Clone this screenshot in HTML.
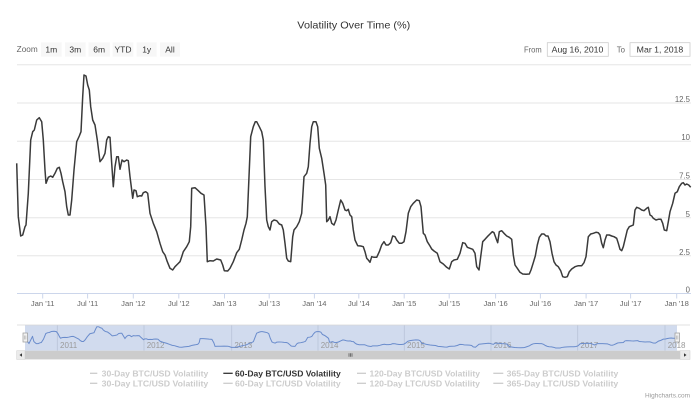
<!DOCTYPE html>
<html>
<head>
<meta charset="utf-8">
<style>
html,body{margin:0;padding:0;background:#fff;}
svg{display:block;font-family:"Liberation Sans",sans-serif;}
</style>
</head>
<body>
<svg width="700" height="403" viewBox="0 0 700 403" xmlns="http://www.w3.org/2000/svg">
<defs>
<polyline id="ml" fill="none" vector-effect="non-scaling-stroke" points="16.7,163.3 18.3,216.7 20.7,236 22.7,235 25,226.7 26,225 28.3,193.3 30.7,140 32.7,131.7 34.3,130 36.7,120 39.3,117.7 41.7,121.7 43.3,140 45,170 46,183.3 48.3,177.3 50.7,176 52.7,177.3 55,173.3 57.3,168.3 59.3,167.3 61,173.3 62.7,181.7 65,191.7 66.7,206.7 68.3,215 70,215 71.7,200 74,170 76.7,141.7 79.3,136 81,131.7 82.7,96.7 84,75 86,76 87.7,85 89.3,90 90.7,106.7 92.7,120 95,125 97.3,140 100,161.7 102.7,158.3 105,153.3 106.7,140 108.3,136.7 110,137.3 111.7,163.3 113.3,186.7 115,166.7 116.7,156.7 118.3,156.7 120,169.3 122,160 124,161.7 126.7,160 128.3,160.7 130,176.7 131.7,190 132.7,198.3 134,190 136,190.7 137.3,196.7 140,195.7 141.7,196 143.3,192.7 145.7,191.7 147.7,193.3 150,213.3 153.3,223.3 156.7,231.7 160,243.3 162.7,251.7 165,255 167.3,261.7 170,268.3 172.7,270 175,266.7 177.7,264 180,261.7 181.7,256.7 183.3,251.7 186.7,246.7 189.3,241.7 190.7,226.7 191.7,188.3 195,187.7 198.3,190.7 201,193.3 204,195 206,226.7 207.3,261.7 210,260.7 213.3,261 216.7,259 220.7,260 222.7,265 224.3,270.7 227.7,271 230,268.3 233.3,261.7 236.7,252.7 239.3,249.3 241.7,240 244,230 246,223.3 247.3,216.7 249,176.7 250.7,136.7 253.3,126.7 255.3,121.7 256.7,121.7 259.3,126.7 261.7,131.7 263.3,140 265,186.7 266.7,220 268.3,226.7 270,230 271.7,221.7 274,220 276.7,220.7 279.3,224 281.7,225 283.3,230 285,243.3 286.7,258.3 288.3,261 290.7,261.7 292.7,236.7 294,230 296.7,226.7 299.3,221.7 301.7,213.3 304,176.7 306.7,173.3 308.3,166.7 310,143.3 311.7,126.7 313.3,121.7 316,121.7 317.7,126.7 319.3,148.3 321.7,158.3 324,173.3 325.7,185 326.7,221.7 328.3,220 330,216.7 331.7,223.3 334,225 336,220 338.3,210 340.7,200 342.7,203.3 345,210 346.7,210.7 348.3,209.3 350,215 351.7,216.7 353.3,230 355,240 357.7,245.7 360.7,246 363.3,246.7 365,251.7 366.7,258.3 368.3,260 370,262.3 371.7,256.7 374,257.3 376.7,257.3 379.3,251.7 381.7,245 384,241.7 386,245 388.3,245 390.7,242.7 392.7,236 395,236.7 396.7,240 399.3,243.3 401.7,243.3 404,241.7 406,231.7 408.3,213.3 410.7,206.7 413.3,203.3 416.7,200 419.3,200.7 421,206.7 423.3,233.3 425,235 427.3,241.7 430,246 431.7,249 434,251 437.3,253.3 440,261.7 443.3,264 446.7,267.3 449.3,269 451.7,261.7 454,260 457.3,259.3 460,253.3 462.7,242.7 465,243.3 467.3,247.3 470,248.3 472.7,249.3 475,253.3 476.7,266.7 479,270 480.7,256.7 482.7,241.7 485,239.3 487.3,236.7 490,234 492.3,231.7 494,232.7 496,238.3 497.7,242.7 499.3,231.7 501.7,230.7 504,233.3 506.7,236 509.3,237.3 511.7,239.3 513.3,255 515,265 517.3,268.3 520,272.3 522.7,274 526,274.3 529.3,274 531,270 533.3,262.7 535.3,256 537.3,245 539.3,237.3 541.7,234 544,234 546,236 548,236 550,241.7 552,253.3 554,261.7 556,265 558.3,266.7 560.7,270.7 562.7,276.7 565,277.3 567.3,276.7 569.3,271.7 571.7,269 575,266.7 578.3,265.7 581.7,265.7 584,262.7 586,256.7 588.3,236.7 590.7,234 593.3,233.3 596,232.3 598.3,232.7 600,235 601.7,243.3 603.3,247.7 605,240 606.7,235 609.3,235 611.7,236 614,236.7 616.7,238.3 618.3,243.3 620,249.3 621.7,250.7 623.3,246.7 625.7,236.7 627.3,230 629.3,226.7 631.7,225.7 633.3,225 635,210 636.7,207.3 639.3,208.3 641.7,210 644,210.7 646.7,208.3 648.3,207.3 650,215 651.7,216 653.3,218.3 656,220 658.3,219.3 661,219.3 662.7,223.3 664.3,230 666.7,230.7 668.3,221.7 670,211.7 672.7,203.3 675,193.3 677.3,191.7 679.3,186.7 681.7,183.3 683.3,182.7 685,185 686.7,184 688.7,185 690.7,187.3"/>
</defs>

<!-- Title -->
<text x="297.3" y="28.7" font-size="10.5" fill="#333" textLength="113" lengthAdjust="spacingAndGlyphs">Volatility Over Time (%)</text>

<!-- Range selector -->
<text x="16.7" y="52" font-size="8" fill="#666" textLength="21" lengthAdjust="spacingAndGlyphs">Zoom</text>
<g fill="#f7f7f7">
<rect x="41" y="42.3" width="20.7" height="14.4"/>
<rect x="65" y="42.3" width="20.7" height="14.4"/>
<rect x="88.5" y="42.3" width="21.3" height="14.4"/>
<rect x="112.7" y="42.3" width="20.6" height="14.4"/>
<rect x="136.7" y="42.3" width="20" height="14.4"/>
<rect x="160" y="42.3" width="20" height="14.4"/>
</g>
<g font-size="8.5" fill="#333" text-anchor="middle">
<text x="51.3" y="52.3">1m</text>
<text x="75.3" y="52.3">3m</text>
<text x="99.2" y="52.3">6m</text>
<text x="123" y="52.3">YTD</text>
<text x="146.7" y="52.3">1y</text>
<text x="170" y="52.3">All</text>
</g>
<text x="524" y="52.3" font-size="8" fill="#666" textLength="17.7" lengthAdjust="spacingAndGlyphs">From</text>
<rect x="547.3" y="42.7" width="61" height="13.6" fill="#fff" stroke="#cccccc" stroke-width="0.8"/>
<text x="551.7" y="52.3" font-size="8.5" fill="#333" textLength="51.6" lengthAdjust="spacingAndGlyphs">Aug 16, 2010</text>
<text x="616.7" y="52.3" font-size="8" fill="#666" textLength="8.3" lengthAdjust="spacingAndGlyphs">To</text>
<rect x="630" y="42.7" width="60" height="13.6" fill="#fff" stroke="#cccccc" stroke-width="0.8"/>
<text x="636.7" y="52.3" font-size="8.5" fill="#333" textLength="46.6" lengthAdjust="spacingAndGlyphs">Mar 1, 2018</text>

<!-- Grid -->
<g stroke="#e6e6e6" stroke-width="1">
<line x1="17" y1="64.7" x2="691" y2="64.7"/>
<line x1="17" y1="103" x2="691" y2="103"/>
<line x1="17" y1="141.2" x2="691" y2="141.2"/>
<line x1="17" y1="179.5" x2="691" y2="179.5"/>
<line x1="17" y1="217.7" x2="691" y2="217.7"/>
<line x1="17" y1="255.7" x2="691" y2="255.7"/>
</g>
<line x1="17" y1="293.5" x2="691" y2="293.5" stroke="#ccd6eb" stroke-width="1"/>

<!-- Y labels -->
<g font-size="7.8" fill="#666" text-anchor="end">
<text x="690" y="102">12.5</text>
<text x="690" y="140.2">10</text>
<text x="690" y="178.7">7.5</text>
<text x="690" y="216.8">5</text>
<text x="690" y="255">2.5</text>
<text x="690" y="292.6">0</text>
</g>

<!-- X ticks -->
<g stroke="#ccd6eb" stroke-width="1">
<line x1="42.7" y1="293.5" x2="42.7" y2="298.5"/>
<line x1="87.6" y1="293.5" x2="87.6" y2="298.5"/>
<line x1="133.3" y1="293.5" x2="133.3" y2="298.5"/>
<line x1="178.8" y1="293.5" x2="178.8" y2="298.5"/>
<line x1="224.5" y1="293.5" x2="224.5" y2="298.5"/>
<line x1="269.2" y1="293.5" x2="269.2" y2="298.5"/>
<line x1="314.4" y1="293.5" x2="314.4" y2="298.5"/>
<line x1="358.8" y1="293.5" x2="358.8" y2="298.5"/>
<line x1="404.2" y1="293.5" x2="404.2" y2="298.5"/>
<line x1="449.2" y1="293.5" x2="449.2" y2="298.5"/>
<line x1="495.6" y1="293.5" x2="495.6" y2="298.5"/>
<line x1="540.4" y1="293.5" x2="540.4" y2="298.5"/>
<line x1="586.1" y1="293.5" x2="586.1" y2="298.5"/>
<line x1="630.6" y1="293.5" x2="630.6" y2="298.5"/>
<line x1="676.7" y1="293.5" x2="676.7" y2="298.5"/>
</g>
<g font-size="7.6" fill="#666" text-anchor="middle">
<text x="42.7" y="306">Jan '11</text>
<text x="87.6" y="306">Jul '11</text>
<text x="133.3" y="306">Jan '12</text>
<text x="178.8" y="306">Jul '12</text>
<text x="224.5" y="306">Jan '13</text>
<text x="269.2" y="306">Jul '13</text>
<text x="314.4" y="306">Jan '14</text>
<text x="358.8" y="306">Jul '14</text>
<text x="404.2" y="306">Jan '15</text>
<text x="449.2" y="306">Jul '15</text>
<text x="495.6" y="306">Jan '16</text>
<text x="540.4" y="306">Jul '16</text>
<text x="586.1" y="306">Jan '17</text>
<text x="630.6" y="306">Jul '17</text>
<text x="676.7" y="306">Jan '18</text>
</g>

<!-- Main series -->
<use href="#ml" stroke="#3a3a3a" stroke-width="1.5" stroke-linejoin="round"/>

<!-- Navigator -->
<rect x="25" y="325" width="652" height="25.7" fill="#d1dbee"/>
<g stroke="#b8c3d8" stroke-width="0.8">
<line x1="57.3" y1="325" x2="57.3" y2="350.7"/>
<line x1="144" y1="325" x2="144" y2="350.7"/>
<line x1="231.7" y1="325" x2="231.7" y2="350.7"/>
<line x1="318" y1="325" x2="318" y2="350.7"/>
<line x1="404.3" y1="325" x2="404.3" y2="350.7"/>
<line x1="491" y1="325" x2="491" y2="350.7"/>
<line x1="577.7" y1="325" x2="577.7" y2="350.7"/>
<line x1="665" y1="325" x2="665" y2="350.7"/>
</g>
<g font-size="8" fill="#9a9a9a">
<text x="60" y="348">2011</text>
<text x="146.7" y="348">2012</text>
<text x="234.4" y="348">2013</text>
<text x="320.7" y="348">2014</text>
<text x="407" y="348">2015</text>
<text x="493.7" y="348">2016</text>
<text x="580.4" y="348">2017</text>
<text x="667.7" y="348">2018</text>
</g>
<polyline points="26.5,340.5 29,343.5 32.7,336" fill="none" stroke="#6a8ccc" stroke-width="1"/>
<use href="#ml" stroke="#6a8ccc" stroke-width="1" transform="matrix(0.9584 0 0 0.1054 16.38 318.8)"/>
<line x1="17" y1="325" x2="690" y2="325" stroke="#d6d6d6" stroke-width="0.8"/>
<!-- handles -->
<rect x="23" y="333" width="4.5" height="9" fill="#f2f2f2" stroke="#999" stroke-width="0.7"/>
<line x1="24.6" y1="335.5" x2="24.6" y2="339.5" stroke="#999" stroke-width="0.5"/>
<line x1="25.9" y1="335.5" x2="25.9" y2="339.5" stroke="#999" stroke-width="0.5"/>
<rect x="675" y="333" width="4.5" height="9" fill="#f2f2f2" stroke="#999" stroke-width="0.7"/>
<line x1="676.6" y1="335.5" x2="676.6" y2="339.5" stroke="#999" stroke-width="0.5"/>
<line x1="677.9" y1="335.5" x2="677.9" y2="339.5" stroke="#999" stroke-width="0.5"/>

<!-- Scrollbar -->
<rect x="25" y="350.7" width="655" height="8.7" fill="#cccccc"/>
<rect x="16.7" y="350.7" width="8.3" height="8.7" fill="#ebebeb" stroke="#cccccc" stroke-width="0.5"/>
<path d="M19.5,355 L22,353.3 L22,356.7 Z" fill="#333"/>
<rect x="680" y="350.7" width="10" height="8.7" fill="#ebebeb" stroke="#cccccc" stroke-width="0.5"/>
<path d="M686.5,355 L684,353.3 L684,356.7 Z" fill="#333"/>
<g stroke="#333" stroke-width="0.6">
<line x1="349" y1="353.3" x2="349" y2="356.7"/>
<line x1="350.5" y1="353.3" x2="350.5" y2="356.7"/>
<line x1="352" y1="353.3" x2="352" y2="356.7"/>
</g>

<!-- Legend -->
<g stroke-width="1.3">
<line x1="90" y1="373.3" x2="97.3" y2="373.3" stroke="#cccccc"/>
<line x1="223.3" y1="373.3" x2="232.7" y2="373.3" stroke="#333"/>
<line x1="357" y1="373.3" x2="366" y2="373.3" stroke="#cccccc"/>
<line x1="493.3" y1="373.3" x2="503.3" y2="373.3" stroke="#cccccc"/>
<line x1="90" y1="383.3" x2="97.3" y2="383.3" stroke="#cccccc"/>
<line x1="223.3" y1="383.3" x2="232.7" y2="383.3" stroke="#cccccc"/>
<line x1="357" y1="383.3" x2="366" y2="383.3" stroke="#cccccc"/>
<line x1="493.3" y1="383.3" x2="503.3" y2="383.3" stroke="#cccccc"/>
</g>
<g font-size="8.5" font-weight="bold">
<text x="101.7" y="376.3" fill="#cccccc" textLength="106.6" lengthAdjust="spacingAndGlyphs">30-Day BTC/USD Volatility</text>
<text x="235" y="376.3" fill="#333" textLength="105.7" lengthAdjust="spacingAndGlyphs">60-Day BTC/USD Volatility</text>
<text x="369.5" y="376.3" fill="#cccccc" textLength="110.5" lengthAdjust="spacingAndGlyphs">120-Day BTC/USD Volatility</text>
<text x="506.7" y="376.3" fill="#cccccc" textLength="111.6" lengthAdjust="spacingAndGlyphs">365-Day BTC/USD Volatility</text>
<text x="101.7" y="386.3" fill="#cccccc" textLength="106.6" lengthAdjust="spacingAndGlyphs">30-Day LTC/USD Volatility</text>
<text x="235" y="386.3" fill="#cccccc" textLength="105.7" lengthAdjust="spacingAndGlyphs">60-Day LTC/USD Volatility</text>
<text x="369.5" y="386.3" fill="#cccccc" textLength="110.5" lengthAdjust="spacingAndGlyphs">120-Day LTC/USD Volatility</text>
<text x="506.7" y="386.3" fill="#cccccc" textLength="111.6" lengthAdjust="spacingAndGlyphs">365-Day LTC/USD Volatility</text>
</g>

<!-- Credits -->
<text x="645" y="397.5" font-size="6.5" fill="#999" textLength="45" lengthAdjust="spacingAndGlyphs">Highcharts.com</text>
</svg>
</body>
</html>
